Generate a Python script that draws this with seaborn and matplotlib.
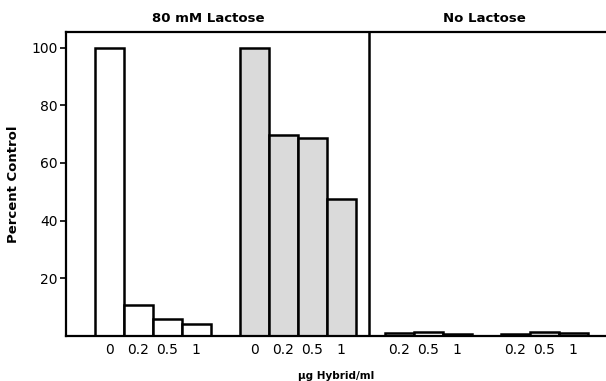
import matplotlib
matplotlib.use("Agg")
import matplotlib.pyplot as plt
import seaborn as sns
import pandas as pd

# ---- data ----
lact_doses = ["0", "0.2", "0.5", "1"]
lact_open = [100, 10.8, 6.0, 4.0]
lact_shaded = [100, 69.8, 68.8, 47.5]
nolact_doses = ["0.2", "0.5", "1"]
nolact_open = [0.9, 1.5, 0.8]
nolact_shaded = [0.7, 1.4, 0.9]
panel_titles = ["80 mM Lactose", "No Lactose"]
yticks = [20, 40, 60, 80, 100]

# ---- layout: group start slots (bar width = 1 slot) ----
group_specs = [
    (1.0, lact_doses, lact_open, "open"),
    (6.0, lact_doses, lact_shaded, "shaded"),
    (11.0, nolact_doses, nolact_open, "open"),
    (15.0, nolact_doses, nolact_shaded, "shaded"),
]
rows = []
for start, doses, vals, fill in group_specs:
    for i, (d, v) in enumerate(zip(doses, vals)):
        rows.append({"pos": start + i + 0.5, "value": v, "fill": fill, "label": d})
df = pd.DataFrame(rows)

sns.set_style("ticks")
plt.rcParams["font.family"] = ["DejaVu Sans"]
plt.rcParams["text.color"] = "black"
plt.rcParams["axes.labelcolor"] = "black"
plt.rcParams["xtick.color"] = "black"
plt.rcParams["ytick.color"] = "black"

fig = plt.figure(figsize=(6.06, 3.81), dpi=100)
ax = fig.add_axes([0.1084, 0.1181, 0.8916, 0.7971])

sns.barplot(data=df, x="pos", y="value", hue="fill",
            palette={"open": "white", "shaded": "#dadada"},
            native_scale=True, width=1.0, dodge=False,
            edgecolor="black", linewidth=1.8, legend=False, ax=ax)

ax.set_xlim(0, 18.63)
ax.set_ylim(0, 105.3)
ax.set_yticks(yticks)
ax.set_yticklabels([str(t) for t in yticks], fontsize=10)
ax.set_xticks(df["pos"])
ax.set_xticklabels(df["label"], fontsize=10)
ax.tick_params(axis="x", length=0, pad=5, colors="black")
ax.tick_params(axis="y", length=4, width=1.2, direction="out", pad=2, colors="black")

for s in ["left", "top", "bottom"]:
    ax.spines[s].set_visible(True)
    ax.spines[s].set_linewidth(1.6)
    ax.spines[s].set_color("black")
ax.spines["right"].set_visible(False)

ax.axvline(10.46, color="black", linewidth=1.8)

ax.set_ylabel("Percent Control", fontsize=9.5, fontweight="bold", labelpad=8, color="black")
ax.set_xlabel("µg Hybrid/ml", fontsize=7.5, fontweight="bold", labelpad=10, color="black")

ax.text(4.9, 1.045, panel_titles[0], transform=ax.get_xaxis_transform(),
        ha="center", va="center", fontsize=9.5, fontweight="bold", color="black")
ax.text(14.45, 1.045, panel_titles[1], transform=ax.get_xaxis_transform(),
        ha="center", va="center", fontsize=9.5, fontweight="bold", color="black")

fig.savefig("out.png", dpi=100)
